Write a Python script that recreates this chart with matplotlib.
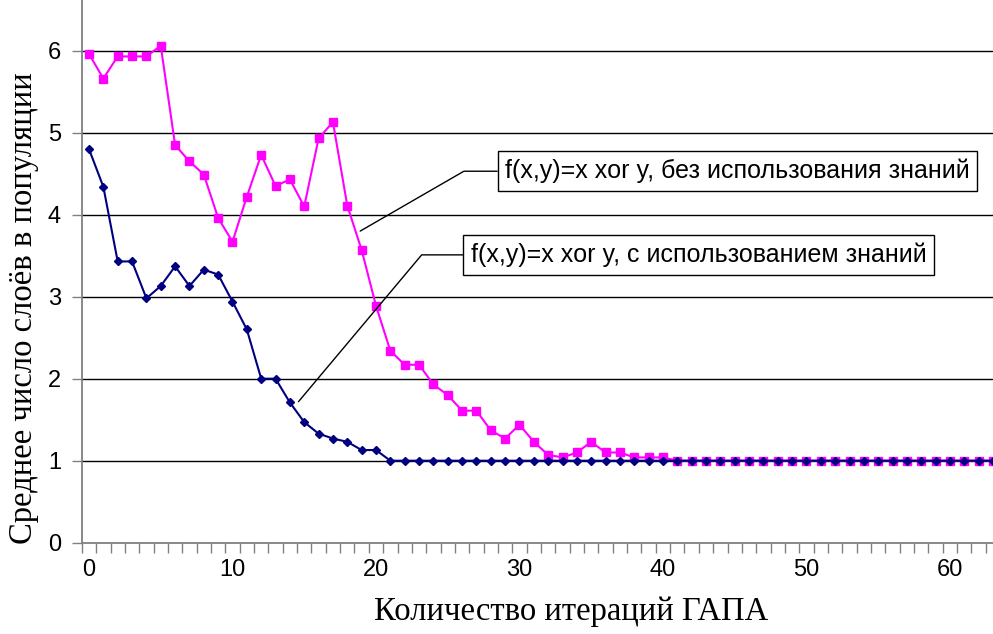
import matplotlib.pyplot as plt

# Средние значения числа слоёв по итерациям ГАПА
iterations = list(range(64))
without_knowledge = [5.96, 5.66, 5.93, 5.93, 5.93, 6.06, 4.85, 4.65, 4.49, 3.96,
                     3.67, 4.22, 4.73, 4.35, 4.43, 4.10, 4.93, 5.13, 4.11, 3.57,
                     2.89, 2.34, 2.17, 2.17, 1.93, 1.80, 1.61, 1.61, 1.37, 1.27,
                     1.44, 1.23, 1.07, 1.04, 1.10, 1.23, 1.10, 1.10, 1.04, 1.04,
                     1.04] + [1.0] * 23
with_knowledge = [4.80, 4.34, 3.43, 3.43, 2.98, 3.13, 3.37, 3.13, 3.33, 3.27,
                  2.94, 2.60, 2.00, 2.00, 1.71, 1.47, 1.33, 1.27, 1.23, 1.13,
                  1.13] + [1.0] * 43

label_without = 'f(x,y)=x xor y, без использования знаний'
label_with = 'f(x,y)=x xor y, с использованием знаний'
x_ticks = [0, 10, 20, 30, 40, 50, 60]
y_ticks = [0, 1, 2, 3, 4, 5, 6]

fig = plt.figure(figsize=(9.93, 6.34), dpi=100)
ax = fig.add_axes([0.0824, 0.144, 0.9176, 0.856])

for y in y_ticks[1:]:
    ax.axhline(y, color='black', lw=1.0, zorder=1)

ax.plot(iterations, without_knowledge, color='#FF00FF', lw=1.5, marker='s',
        markersize=6, zorder=3)
ax.plot(iterations, with_knowledge, color='#000080', lw=1.5, marker='D',
        markersize=4.5, zorder=4)

ax.set_xlim(-0.5, 63.0)
ax.set_ylim(0, 6.618)

ax.spines['top'].set_visible(False)
ax.spines['right'].set_visible(False)
for s in ['left', 'bottom']:
    ax.spines[s].set_color('#808080')
    ax.spines[s].set_linewidth(1.3)

ax.set_xticks(x_ticks)
ax.set_xticks([i - 0.5 for i in iterations], minor=True)
ax.tick_params(axis='x', which='major', length=0, pad=12, labelsize=17)
ax.tick_params(axis='x', which='minor', length=7, width=1, color='#808080',
               direction='out')
ax.set_yticks(y_ticks)
ax.tick_params(axis='y', length=7, width=1, color='#808080', pad=8, labelsize=17)
for lab in ax.get_xticklabels() + ax.get_yticklabels():
    lab.set_fontfamily('Liberation Sans')

ax.set_xlabel('Количество итераций ГАПА', fontfamily='Liberation Serif',
              fontsize=23.5)
ax.set_ylabel('Среднее число слоёв в популяции', fontfamily='Liberation Serif',
              fontsize=23.5)
ax.xaxis.set_label_coords(0.537, -0.10)
ax.yaxis.set_label_coords(-0.047, 0.432)

box = dict(boxstyle='square,pad=0.3', fc='white', ec='black', lw=1)
ax.annotate(label_without, xy=(18.9, 3.80), xytext=(29.0, 4.53),
            fontsize=18, fontfamily='Liberation Sans', ha='left', va='center',
            bbox=box, zorder=5,
            arrowprops=dict(arrowstyle='-', color='black', lw=1,
                            relpos=(0, 0.5), shrinkA=0, shrinkB=0,
                            connectionstyle='angle,angleA=180,angleB=30,rad=0'))
ax.annotate(label_with, xy=(14.6, 1.72), xytext=(26.6, 3.51),
            fontsize=18, fontfamily='Liberation Sans', ha='left', va='center',
            bbox=box, zorder=5,
            arrowprops=dict(arrowstyle='-', color='black', lw=1,
                            relpos=(0, 0.5), shrinkA=0, shrinkB=0,
                            connectionstyle='angle,angleA=180,angleB=50,rad=0'))

fig.savefig('out.png', dpi=100)
